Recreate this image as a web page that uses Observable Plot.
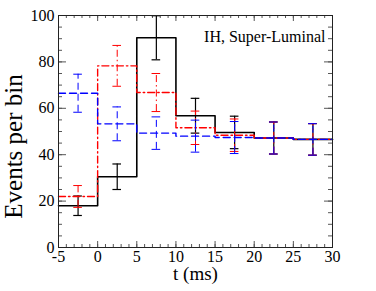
<!DOCTYPE html>
<html><head><meta charset="utf-8">
<script src="https://cdn.jsdelivr.net/npm/d3@7"></script>
<script src="https://cdn.jsdelivr.net/npm/@observablehq/plot@0.6"></script>
<style>body{margin:0;background:#fff;font-family:"Liberation Serif",serif}</style>
</head><body><div id="chart"></div>
<script>
const edges = [-5, 0, 5, 10, 15, 20, 25, 30];
const centers = [-2.5, 2.5, 7.5, 12.5, 17.5, 22.5, 27.5];
const black = [18, 30.5, 90.4, 56.8, 49.6, 47.2, 46.6];
const blackErr = [4.2, 5.5, 9.5, 7.5, 7.0, 6.9, 6.8];
const red = [22, 78.3, 66.8, 51.6, 48.4, 47.2, 46.6];
const redErr = [4.7, 8.8, 8.2, 7.2, 7.0, 6.9, 6.8];
const blue = [66.5, 53.3, 49.3, 48.0, 47.4, 47.2, 46.6];
const blueErr = [8.2, 7.3, 7.0, 6.9, 6.9, 6.9, 6.8];
const xMajor = [-5, 0, 5, 10, 15, 20, 25, 30];
const yMajor = [0, 20, 40, 60, 80, 100];
const title = "IH, Super-Luminal";
const xLabel = "t (ms)";
const yLabel = "Events per bin";

const FONT = "Liberation Serif";
const series = [
  {vals: black, errs: blackErr, color: "#000000", dash: null, w: 1.6, ew: 1.2},
  {vals: red, errs: redErr, color: "#ff0000", dash: "7,3,1.5,3", w: 1.4, ew: 1},
  {vals: blue, errs: blueErr, color: "#0000ff", dash: "7,4", w: 1.4, ew: 1}
];
const capHalf = 0.55;
const xMinor = d3.range(-5, 30.01, 1);
const yMinor = d3.range(0, 100.01, 5);

const marks = [];
for (const s of series) {
  const steps = edges.map((e, i) => ({x: e, y: s.vals[Math.min(i, s.vals.length - 1)]}));
  const eb = centers.map((c, i) => ({x: c, y1: s.vals[i] - s.errs[i], y2: s.vals[i] + s.errs[i]}));
  marks.push(Plot.line(steps, {x: "x", y: "y", curve: "step-after", stroke: s.color, strokeWidth: s.w, strokeDasharray: s.dash}));
  marks.push(Plot.ruleX(eb, {x: "x", y1: "y1", y2: "y2", stroke: s.color, strokeWidth: s.ew, strokeDasharray: s.dash}));
  marks.push(Plot.ruleY(eb, {y: "y1", x1: d => d.x - capHalf, x2: d => d.x + capHalf, stroke: s.color, strokeWidth: s.ew}));
  marks.push(Plot.ruleY(eb, {y: "y2", x1: d => d.x - capHalf, x2: d => d.x + capHalf, stroke: s.color, strokeWidth: s.ew}));
}

const H = 232, W = 274;
const tickColor = "#555";
const chart = Plot.plot({
  width: 376, height: 291,
  marginLeft: 58, marginRight: 44, marginTop: 15, marginBottom: 44,
  style: "font-family: 'Liberation Serif', serif; background: #fff;",
  x: {domain: [-5, 30]},
  y: {domain: [0, 100]},
  marks: [
    Plot.tickX(xMinor, {x: d => d, insetTop: H - 3, stroke: tickColor}),
    Plot.tickX(xMajor, {x: d => d, insetTop: H - 6, stroke: tickColor}),
    Plot.tickX(xMinor, {x: d => d, insetBottom: H - 3, stroke: tickColor}),
    Plot.tickX(xMajor, {x: d => d, insetBottom: H - 6, stroke: tickColor}),
    Plot.tickY(yMinor, {y: d => d, insetRight: W - 4, stroke: tickColor}),
    Plot.tickY(yMajor, {y: d => d, insetRight: W - 8, stroke: tickColor}),
    Plot.tickY(yMinor, {y: d => d, insetLeft: W - 4, stroke: tickColor}),
    Plot.tickY(yMajor, {y: d => d, insetLeft: W - 8, stroke: tickColor}),
    ...marks,
    Plot.frame({stroke: "#222", strokeWidth: 1}),
    Plot.axisX(xMajor, {tickSize: 0, tickPadding: 3, fontSize: 16, label: null, tickFormat: d => String(d), fill: "#000"}),
    Plot.axisY(yMajor, {tickSize: 0, tickPadding: 4, fontSize: 16, label: null, tickFormat: d => String(d), fill: "#000"}),
    Plot.text([yLabel], {text: d => d, frameAnchor: "left", dx: -45, dy: 15, rotate: -90, fontSize: 25, textAnchor: "middle", lineAnchor: "middle", fill: "#000"}),
    Plot.text([xLabel], {text: d => d, frameAnchor: "bottom", dy: 26, fontSize: 19, textAnchor: "middle", lineAnchor: "middle", fill: "#000"}),
    Plot.text([title], {text: d => d, frameAnchor: "top-right", dx: -7, dy: 21, fontSize: 16, textAnchor: "end", lineAnchor: "middle", fill: "#000"})
  ]
});
d3.select(chart).attr("font-family", FONT);
d3.select(chart).selectAll("g, text").attr("font-family", FONT).style("font-family", FONT);
document.getElementById("chart").appendChild(chart);
</script>
</body></html>
